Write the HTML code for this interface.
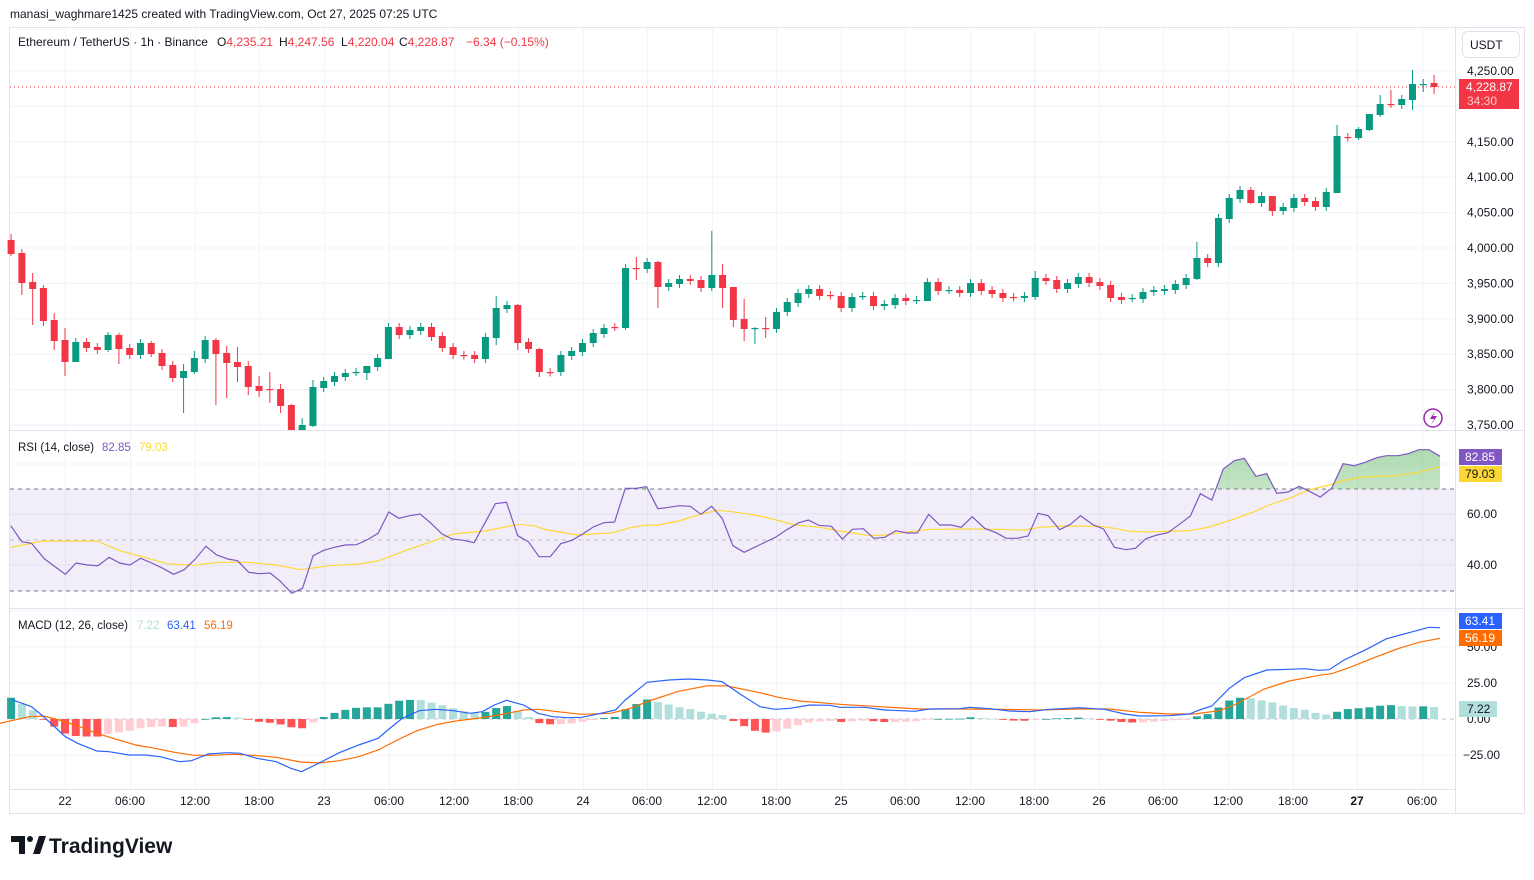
<!DOCTYPE html>
<html><head><meta charset="utf-8"><style>
body{margin:0;background:#fff;width:1534px;height:875px;overflow:hidden;font-family:"Liberation Sans",sans-serif}
svg text{font-family:"Liberation Sans",sans-serif}
</style></head><body>
<svg id="s" width="1534" height="875" xmlns="http://www.w3.org/2000/svg">
<rect width="1534" height="875" fill="#fff"/>
<text x="10" y="18" font-size="12" fill="#131722">manasi_waghmare1425 created with TradingView.com, Oct 27, 2025 07:25 UTC</text>
<rect x="9.5" y="27.5" width="1515" height="786" fill="none" stroke="#e0e3eb"/>
<g id="grid"></g>
<rect x="10" y="489" width="1445" height="102" fill="#7e57c2" fill-opacity="0.1"/>
<defs><linearGradient id="gf" x1="0" y1="0" x2="0" y2="1"><stop offset="0" stop-color="#4caf50" stop-opacity="0.45"/><stop offset="1" stop-color="#4caf50" stop-opacity="0.02"/></linearGradient>
<clipPath id="above"><rect x="10" y="431" width="1445" height="58"/></clipPath></defs>
<g id="plot"></g>
<line x1="1455.5" y1="28" x2="1455.5" y2="813" stroke="#e0e3eb"/>
<line x1="10" y1="430.5" x2="1524" y2="430.5" stroke="#e0e3eb"/>
<line x1="10" y1="608.5" x2="1524" y2="608.5" stroke="#e0e3eb"/>
<line x1="10" y1="789.5" x2="1455" y2="789.5" stroke="#e0e3eb"/>
<text y="46" font-size="12" fill="#131722"><tspan x="18">Ethereum / TetherUS · 1h · Binance</tspan><tspan x="217">O</tspan><tspan fill="#f23645">4,235.21</tspan><tspan x="279">H</tspan><tspan fill="#f23645">4,247.56</tspan><tspan x="341">L</tspan><tspan fill="#f23645">4,220.04</tspan><tspan x="399">C</tspan><tspan fill="#f23645">4,228.87</tspan><tspan x="466" fill="#f23645">−6.34 (−0.15%)</tspan></text>
<rect x="1462.5" y="31.5" width="57" height="26" rx="5" fill="#fff" stroke="#e0e3eb"/>
<text x="1470" y="49" font-size="12" fill="#131722">USDT</text>
<text y="451" font-size="11.5" fill="#131722"><tspan x="18">RSI (14, close)</tspan><tspan x="102" fill="#7e57c2">82.85</tspan><tspan x="139" fill="#fdd835">79.03</tspan></text>
<text y="629" font-size="11.5" fill="#131722"><tspan x="18">MACD (12, 26, close)</tspan><tspan x="137" fill="#b2dfdb">7.22</tspan><tspan x="167" fill="#2962ff">63.41</tspan><tspan x="204" fill="#ff6d00">56.19</tspan></text>
<g id="axis" font-size="12" fill="#131722"></g>
<rect x="1459" y="79" width="60" height="30" fill="#f23645"/>
<text x="1466" y="91" font-size="12" fill="#fff">4,228.87</text>
<text x="1467" y="105" font-size="12" fill="#fcc">34:30</text>
<rect x="1459" y="449" width="43" height="16" fill="#7e57c2"/><text x="1465" y="461" font-size="12" fill="#fff">82.85</text>
<rect x="1459" y="466" width="43" height="16" fill="#fdd835"/><text x="1465" y="478" font-size="12" fill="#131722">79.03</text>
<rect x="1459" y="613" width="43" height="16" fill="#2962ff"/><text x="1465" y="625" font-size="12" fill="#fff">63.41</text>
<rect x="1459" y="630" width="43" height="16" fill="#ff6d00"/><text x="1465" y="642" font-size="12" fill="#fff">56.19</text>
<rect x="1459" y="701" width="38" height="16" fill="#b2dfdb"/><text x="1467" y="713" font-size="12" fill="#131722">7.22</text>
<circle cx="1433" cy="418" r="9" fill="#fff" stroke="#9c27b0" stroke-width="1.5"/>
<path d="M1435 411 L1430 419 L1434 419 L1431 425 L1437 416 L1433 416 Z" fill="#9c27b0"/>
<g transform="translate(11,836)"><path d="M0 0 H14 V18 H8 V6 H0 Z" fill="#131722"/><circle cx="19" cy="3" r="3" fill="#131722"/><path d="M22 18 L28 0 H35 L29 18 Z" fill="#131722"/></g>
<text x="49" y="853" font-size="21" font-weight="bold" fill="#131722">TradingView</text>
</svg>
<script>
const NS="http://www.w3.org/2000/svg";
function el(p,t,a){const e=document.createElementNS(NS,t);for(const k in a)e.setAttribute(k,a[k]);p.appendChild(e);return e;}
const grid=document.getElementById('grid'),plot=document.getElementById('plot'),axis=document.getElementById('axis');
const tx=[65,130,195,259,324,389,454,518,583,647,712,776,841,905,970,1034,1099,1163,1228,1293,1357,1422];
const tl=["22","06:00","12:00","18:00","23","06:00","12:00","18:00","24","06:00","12:00","18:00","25","06:00","12:00","18:00","26","06:00","12:00","18:00","27","06:00"];
tx.forEach((x,i)=>{el(grid,'line',{x1:x+.5,y1:28,x2:x+.5,y2:789,stroke:'#f0f3fa'});const t=el(axis,'text',{x:x,y:805,'text-anchor':'middle','font-weight':(tl[i]=="27"?'bold':'normal')});t.textContent=tl[i];});
const prices=[4250,4200,4150,4100,4050,4000,3950,3900,3850,3800,3750];
prices.forEach(p=>{const y=71+(4250-p)*0.708;el(grid,'line',{x1:10,y1:y,x2:1455,y2:y,stroke:'#f0f3fa'});if(p!=4200){const t=el(axis,'text',{x:1467,y:y+4});t.textContent=p.toLocaleString('en-US')+'.00';}});
[[464,null],[514,'60.00'],[565,'40.00']].forEach(([y,l])=>{el(grid,'line',{x1:10,y1:y,x2:1455,y2:y,stroke:'#f0f3fa'});if(l){const t=el(axis,'text',{x:1467,y:y+4});t.textContent=l;}});
[[611,null],[647,'50.00'],[683,'25.00'],[755,'−25.00']].forEach(([y,l])=>{el(grid,'line',{x1:10,y1:y,x2:1455,y2:y,stroke:'#f0f3fa'});if(l){const t=el(axis,'text',{x:l[0]=='−'?1463:1467,y:y+4});t.textContent=l;}});
{const t=el(axis,'text',{x:1467,y:723});t.textContent='0.00';}
[489,540,591].forEach(y=>el(plot,'line',{x1:10,y1:y,x2:1455,y2:y,stroke:y==540?'#9598a1':'#787b86','stroke-dasharray':'4 4','stroke-opacity':y==540?0.6:1}));
el(plot,'line',{x1:10,y1:719,x2:1455,y2:719,stroke:'#9598a1','stroke-dasharray':'4 4','stroke-opacity':0.6});
el(plot,'line',{x1:10,y1:87,x2:1455,y2:87,stroke:'#f23645','stroke-dasharray':'1 3'});
const C=[[240,254],[253,283],[282,289],[288,321],[320,341],[340,362],[362,342],[342,348],[347,350],[350,335],[335,349],[348,355],[355,343],[343,354],[353,366],[365,378],[378,371],[372,358],[359,340],[340,354],[353,363],[362,367],[366,387],[386,391],[389,389],[389,406],[405,431],[431,425],[426,387],[388,381],[382,376],[377,373],[372,372],[373,366],[367,358],[359,327],[327,335],[335,330],[331,327],[327,337],[336,348],[347,355],[355,355.5],[355,359],[359,337],[338,308],[309,305],[305,343],
[342,349],[349,372],[372,372.5],[372,355],[356,351],[352,343],[343,333],[334,328],[327,327],[328,268],[268,268.5],[269,262],[262,287],[287,283],[284,279],[279,281],[280,288],[288,275],[275,288],[287,320],[319,329],[328,328],[328,328.5],[329,312],[312,302],[303,293],[294,289],[289,296],[295,295.5],[296,308],[308,297],[296,296],[296,306],[306,304],[305,298],[298,301],[300,300],[301,282],[282,291],[290,290],[290,293],[293,283],[283,291],[290,294],[293,298],[297,297.5],[298,296],[297,278],[278,281],[280,289],[289,283],[284,277],[277,283],[282,286],[285,298],[297,300],[298,298],[299,292],[292,290],[291,289],[290,284],[285,278],[279,258],[258,263],[263,218],[219,198],[199,190],[190,203],[203,196],[196,211],[211,207],[208,198],[198,202],[201,207],[207,192],[193,136],[137,137.5],[138,129],[130,114],[115,104],[104,104.5],[105,99],[100,84],[84,84],[83,87]];
const W={0:[234,256],1:[249,295],2:[273,325],3:[285,326],4:[313,350],5:[328,376],6:[338,362],9:[332,352],10:[333,364],13:[341,357],16:[364,413],17:[351,374],19:[338,405],20:[346,398],21:[347,382],22:[361,395],23:[376,397],24:[372,403],25:[384,413],26:[404,431],27:[418,431],28:[380,427],33:[366,380],35:[323,359],45:[296,345],47:[304,350],49:[348,377],57:[264,330],58:[257,280],60:[261,308],65:[231,291],66:[264,308],67:[287,327],68:[299,341],69:[327,344],70:[317,338],85:[278,301],95:[271,300],110:[242,280],113:[194,223],115:[187,204],117:[196,216],123:[125,193],125:[127,140],126:[122,131],127:[95,117],128:[90,108],130:[70,110],131:[79,92],132:[75,94]};
function cx(i){return 65+(i-5)*10.78;}
C.forEach(([o,c],i)=>{const x=cx(i);const up=c<o||(c==o&&(i==69||i==79||i==84||i==87||i==104||i==131||i==32));const col=up?'#089981':'#f23645';
 const top=Math.min(o,c),bot=Math.max(o,c);let [h,l]=W[i]||[top-4,bot+4];
 el(plot,'line',{x1:x,y1:h,x2:x,y2:l,stroke:col,'stroke-width':1});
 el(plot,'rect',{x:x-3.5,y:top,width:7,height:Math.max(bot-top,1.2),fill:col});});
function pts(a,ox,oy,sx){return a.map(([x,y])=>[ox+x/sx,oy+y/3]);}
const SA=2.063,SB=2.003;
const r1=pts([[22,272],[45,320],[65,325],[92,372],[135,418],[157,384],[180,390],[202,392],[225,367],[247,384],[268,390],[290,370],[313,384],[336,400],[358,418],[380,404],[403,372],[425,334],[447,360],[470,372],[490,377],[513,412],[535,416],[557,414],[577,437],[602,475],[624,460],[646,362],[668,346],[690,337],[712,330],[735,329],[757,315],[780,295],[802,231],[823,250],[845,242],[867,237],[890,266],[912,297],[933,312],[956,316],[978,323],[1000,265],[1022,206],[1045,202],[1068,302],[1090,320],[1112,365],[1135,365],[1157,326],[1180,316],[1202,297],[1224,276],[1246,263],[1268,261],[1290,160],[1312,160],[1334,155],[1357,221],[1380,217],[1402,212],[1424,214],[1446,238],[1468,214],[1490,250],[1512,332],[1535,352]],0,435,SA)
.concat(pts([[32,306],[55,283],[78,263],[97,255],[118,271],[143,274],[165,312],[185,283],[207,281],[228,310],[250,307],[272,287],[295,294],[315,294],[338,238],[360,270],[383,270],[403,277],[425,245],[450,280],[473,293],[493,310],[515,310],[537,303],[557,235],[577,242],[600,284],[622,268],[642,242],[667,269],[688,282],[710,337],[733,344],[752,340],[773,311],[795,300],[817,293],[840,268],[862,243],[882,176],[905,195],[928,102],[950,77],[970,70],[993,124],[1015,116],[1035,175],[1058,171],[1080,154],[1102,170],[1122,186],[1145,160],[1168,86],[1190,92],[1212,82],[1235,68],[1255,62],[1278,62],[1298,56],[1320,44],[1340,44],[1362,64]],760,435,SB));
const r2=pts([[22,337],[90,318],[200,318],[245,346],[290,364],[345,386],[400,391],[450,382],[510,382],[570,390],[620,404],[680,392],[740,387],[780,378],[830,350],[880,325],[935,297],[1000,288],[1070,268],[1100,272],[1130,285],[1190,300],[1265,293],[1300,278],[1330,271],[1357,270],[1400,258],[1440,240],[1480,226],[1510,230]],0,435,SA)
.concat(pts([[0,243],[40,258],[70,270],[120,277],[160,288],[220,302],[250,300],[300,290],[340,283],[420,282],[470,283],[530,285],[560,277],[610,273],[680,274],[710,280],[740,289],[780,291],[830,288],[860,287],[900,276],[950,252],[990,230],[1020,210],[1060,190],[1100,165],[1140,150],[1170,136],[1210,126],[1275,122],[1320,112],[1362,95]],760,435,SB));
const P=a=>a.map(p=>p[0].toFixed(1)+','+p[1].toFixed(1)).join(' ');
el(plot,'polygon',{points:P(r1)+' '+r1[r1.length-1][0]+',489 '+r1[0][0]+',489',fill:'url(#gf)','clip-path':'url(#above)'});
el(plot,'polyline',{points:P(r2),fill:'none',stroke:'#fdd835','stroke-width':1.2});
el(plot,'polyline',{points:P(r1),fill:'none',stroke:'#7e57c2','stroke-width':1.2});
const mb=pts([[22,268],[65,290],[90,320],[135,380],[160,400],[200,423],[225,425],[265,435],[300,435],[330,440],[370,455],[395,452],[430,432],[470,428],[495,430],[530,445],[570,455],[600,475],[622,485],[650,465],[700,428],[740,405],[780,385],[800,360],[830,325],[865,302],[900,298],[935,302],[970,310],[995,305],[1020,285],[1045,271],[1080,285],[1110,310],[1140,320],[1170,323],[1200,322],[1230,313],[1270,300],[1290,270],[1335,217],[1380,210],[1420,207],[1460,210],[1490,215],[1530,255]],0,610,SA)
.concat(pts([[0,290],[30,298],[60,295],[100,285],[140,286],[160,292],[210,292],[250,300],[310,304],[340,297],[400,296],[420,292],[460,296],[500,303],[540,305],[580,298],[640,293],[690,298],[730,312],[760,318],[820,317],[860,312],[880,300],[905,288],[940,235],[970,203],[1015,180],[1060,178],[1090,176],[1120,181],[1140,179],[1170,150],[1215,118],[1255,86],[1300,68],[1340,52],[1362,53]],760,610,SB));
const ms=pts([[0,340],[60,320],[90,318],[130,333],[160,348],[200,370],[240,388],[280,405],[320,415],[360,427],[400,436],[440,436],[480,433],[520,436],[570,442],[620,456],[660,459],[700,452],[740,440],[780,420],[820,390],[860,362],[900,344],[940,333],[990,324],[1040,312],[1080,300],[1110,298],[1150,305],[1200,313],[1260,310],[1300,295],[1345,270],[1400,244],[1460,227],[1500,228]],0,610,SA)
.concat(pts([[0,248],[40,263],[80,273],[160,283],[240,290],[320,297],[400,297],[480,298],[560,300],[640,297],[700,297],[760,307],[820,312],[870,312],[920,302],[950,285],[1010,237],[1060,213],[1120,196],[1145,191],[1180,173],[1230,143],[1280,115],[1320,97],[1362,85]],760,610,SB));
function interp(a,x){if(x<=a[0][0])return a[0][1];for(let i=1;i<a.length;i++){if(a[i][0]>=x){const t=(x-a[i-1][0])/(a[i][0]-a[i-1][0]);return a[i-1][1]+t*(a[i][1]-a[i-1][1]);}}return a[a.length-1][1];}
let prev=null;
for(let i=0;i<133;i++){const x=cx(i);let d=interp(ms,x)-interp(mb,x);
 let col;if(d>=0)col=(prev===null||d>=prev)?'#26a69a':'#b2dfdb';else col=(prev===null||d<=prev)?'#ff5252':'#ffcdd2';prev=d;
 const y=d>=0?719-d:719;el(plot,'rect',{x:x-4,y:y,width:8,height:Math.max(Math.abs(d),0.8),fill:col});}
el(plot,'polyline',{points:P(ms),fill:'none',stroke:'#ff6d00','stroke-width':1.2});
el(plot,'polyline',{points:P(mb),fill:'none',stroke:'#2962ff','stroke-width':1.2});
</script>
</body></html>
